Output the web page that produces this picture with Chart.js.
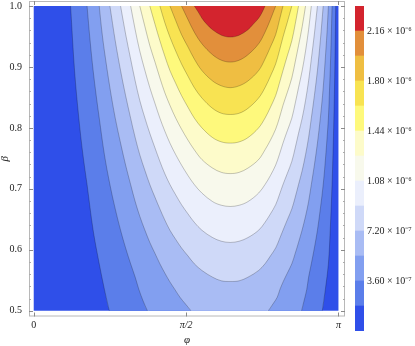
<!DOCTYPE html>
<html>
<head>
<meta charset="utf-8">
<script src="https://cdn.jsdelivr.net/npm/chart.js@4.4.0/dist/chart.umd.min.js"></script>
<style>
  body { margin: 0; background: #fff; }
  #wrap { position: relative; width: 415px; height: 346px; }
  #plot { position: absolute; left: 0; top: 0; }
  #bar { position: absolute; left: 345px; top: 0; }
</style>
</head>
<body>
<div id="wrap">
  <canvas id="plot" width="346" height="346"></canvas>
  <canvas id="bar" width="70" height="346"></canvas>
</div>
<script>
// phi is in units of pi, beta as on the axis
const dataBox = [[0, 0.5], [1, 0.5], [1, 1], [0, 1]]

// contour lines, from top-left round to top-right
const level1 = [[0.121,1],[0.134,0.894],[0.148,0.816],[0.1615,0.756],[0.175,0.707],[0.195,0.632],[0.215,0.577],[0.232,0.535],[0.248,0.5],[0.256,0.5],[0.939,0.5],[0.947,0.5],[0.957,0.535],[0.967,0.577],[0.973,0.632],[0.979,0.707],[0.982,0.756],[0.985,0.816],[0.988,0.894],[0.991,1]]
const level2 = [[0.175,1],[0.185,0.943],[0.195,0.894],[0.205,0.853],[0.215,0.816],[0.232,0.756],[0.250,0.707],[0.2675,0.667],[0.285,0.632],[0.3015,0.603],[0.318,0.577],[0.333,0.555],[0.345,0.535],[0.359,0.516],[0.373,0.5],[0.381,0.5],[0.871,0.5],[0.879,0.5],[0.887,0.516],[0.896,0.535],[0.902,0.555],[0.911,0.577],[0.921,0.603],[0.931,0.632],[0.9405,0.667],[0.950,0.707],[0.9585,0.756],[0.967,0.816],[0.970,0.853],[0.973,0.894],[0.976,0.943],[0.979,1]]
const level3 = [[0.215,1],[0.223,0.961],[0.232,0.926],[0.250,0.866],[0.2675,0.816],[0.285,0.775],[0.3015,0.739],[0.318,0.707],[0.333,0.679],[0.348,0.655],[0.365,0.632],[0.381,0.612],[0.398,0.594],[0.414,0.577],[0.430,0.562],[0.446,0.548],[0.463,0.535],[0.480,0.522],[0.498,0.511],[0.516,0.5],[0.524,0.5],[0.762,0.5],[0.770,0.5],[0.785,0.511],[0.799,0.522],[0.808,0.535],[0.819,0.548],[0.8325,0.562],[0.847,0.577],[0.858,0.594],[0.869,0.612],[0.8805,0.632],[0.892,0.655],[0.902,0.679],[0.911,0.707],[0.921,0.739],[0.931,0.775],[0.9405,0.816],[0.950,0.866],[0.9585,0.926],[0.963,0.961],[0.967,1]]
const level4 = [[0.250,1],[0.2675,0.943],[0.285,0.894],[0.3015,0.853],[0.318,0.816],[0.333,0.784],[0.348,0.756],[0.365,0.730],[0.381,0.707],[0.398,0.686],[0.414,0.667],[0.430,0.649],[0.447,0.632],[0.466,0.617],[0.485,0.603],[0.506,0.590],[0.527,0.577],[0.552,0.566],[0.587,0.555],[0.616,0.549],[0.645,0.548],[0.674,0.549],[0.703,0.555],[0.738,0.566],[0.759,0.577],[0.777,0.590],[0.794,0.603],[0.806,0.617],[0.818,0.632],[0.832,0.649],[0.847,0.667],[0.858,0.686],[0.869,0.707],[0.881,0.730],[0.892,0.756],[0.902,0.784],[0.911,0.816],[0.921,0.853],[0.931,0.894],[0.9405,0.943],[0.950,1]]
const level5 = [[0.285,1],[0.3015,0.954],[0.318,0.913],[0.333,0.877],[0.348,0.845],[0.365,0.816],[0.381,0.791],[0.398,0.767],[0.414,0.745],[0.430,0.725],[0.447,0.707],[0.466,0.690],[0.485,0.674],[0.506,0.659],[0.527,0.645],[0.552,0.632],[0.587,0.620],[0.616,0.614],[0.645,0.612],[0.674,0.614],[0.703,0.620],[0.738,0.632],[0.759,0.645],[0.777,0.659],[0.794,0.674],[0.806,0.690],[0.818,0.707],[0.832,0.725],[0.847,0.745],[0.858,0.767],[0.869,0.791],[0.881,0.816],[0.892,0.845],[0.902,0.877],[0.911,0.913],[0.921,0.954],[0.931,1]]
const level6 = [[0.318,1],[0.333,0.961],[0.348,0.926],[0.365,0.894],[0.381,0.866],[0.398,0.840],[0.414,0.816],[0.430,0.795],[0.447,0.775],[0.466,0.756],[0.485,0.739],[0.506,0.722],[0.527,0.707],[0.552,0.693],[0.587,0.679],[0.616,0.673],[0.645,0.671],[0.674,0.673],[0.703,0.679],[0.738,0.693],[0.759,0.707],[0.777,0.722],[0.794,0.739],[0.806,0.756],[0.818,0.775],[0.832,0.795],[0.847,0.816],[0.858,0.840],[0.869,0.866],[0.881,0.894],[0.892,0.926],[0.902,0.961],[0.911,1]]
const level7 = [[0.348,1],[0.365,0.966],[0.381,0.935],[0.398,0.908],[0.414,0.882],[0.430,0.858],[0.447,0.837],[0.466,0.816],[0.485,0.798],[0.506,0.780],[0.527,0.764],[0.552,0.748],[0.587,0.734],[0.616,0.727],[0.645,0.725],[0.674,0.727],[0.703,0.734],[0.738,0.748],[0.759,0.764],[0.777,0.780],[0.794,0.798],[0.806,0.816],[0.818,0.837],[0.832,0.858],[0.847,0.882],[0.858,0.908],[0.869,0.935],[0.881,0.966],[0.892,1]]
const level8 = [[0.381,1],[0.398,0.970],[0.414,0.943],[0.430,0.918],[0.447,0.894],[0.466,0.873],[0.485,0.853],[0.506,0.834],[0.527,0.816],[0.552,0.800],[0.587,0.784],[0.616,0.777],[0.645,0.775],[0.674,0.777],[0.703,0.784],[0.738,0.800],[0.759,0.816],[0.777,0.834],[0.794,0.853],[0.806,0.873],[0.818,0.894],[0.832,0.918],[0.847,0.943],[0.858,0.970],[0.869,1]]
const level9 = [[0.414,1],[0.430,0.973],[0.447,0.949],[0.466,0.926],[0.485,0.905],[0.506,0.885],[0.527,0.866],[0.552,0.849],[0.587,0.832],[0.616,0.824],[0.645,0.822],[0.674,0.824],[0.703,0.832],[0.738,0.849],[0.759,0.866],[0.777,0.885],[0.794,0.905],[0.806,0.926],[0.818,0.949],[0.832,0.973],[0.847,1]]
const level10 = [[0.447,1],[0.466,0.976],[0.485,0.953],[0.506,0.933],[0.527,0.913],[0.552,0.894],[0.587,0.877],[0.616,0.869],[0.645,0.866],[0.674,0.869],[0.703,0.877],[0.738,0.894],[0.759,0.913],[0.777,0.933],[0.794,0.953],[0.806,0.976],[0.818,1]]
const level11 = [[0.485,1],[0.506,0.978],[0.527,0.957],[0.552,0.938],[0.587,0.920],[0.616,0.911],[0.645,0.908],[0.674,0.911],[0.703,0.920],[0.738,0.938],[0.759,0.957],[0.777,0.978],[0.794,1]]
const level12 = [[0.527,1],[0.540,0.990],[0.552,0.980],[0.568,0.970],[0.587,0.961],[0.616,0.952],[0.645,0.949],[0.674,0.952],[0.703,0.961],[0.720,0.970],[0.738,0.980],[0.750,0.990],[0.759,1]]

const contours = [level1, level2, level3, level4, level5, level6, level7, level8, level9, level10, level11, level12]

// contour values (bar legend) and the colour of each band between them
const levels = [0, 1.8e-7, 3.6e-7, 5.4e-7, 7.2e-7, 9.0e-7, 1.08e-6, 1.26e-6, 1.44e-6, 1.62e-6, 1.80e-6, 1.98e-6, 2.16e-6, 2.34e-6]
const bandColors = ['#2f4fe9', '#5b7eea', '#829ff0', '#a9bcf4', '#cfd9f8', '#ebeffc', '#f8f9ec', '#fdfbca', '#fef97c', '#f8e352', '#efbe42', '#e28f3b', '#d3242e']

const xTickValues = [0, 0.5, 1]
const xTickLabels = ['0', 'π/2', 'π']
const yTickValues = [0.5, 0.6, 0.7, 0.8, 0.9, 1.0]
const yMinorTicks = [0.52, 0.54, 0.56, 0.58, 0.62, 0.64, 0.66, 0.68, 0.72, 0.74, 0.76, 0.78, 0.82, 0.84, 0.86, 0.88, 0.92, 0.94, 0.96, 0.98]

const serif = 'Liberation Serif'

function toXY(pts) {
    return pts.map(p => ({x: p[0], y: p[1]}))
}

// break the outline where it runs along the bottom edge
function outline(pts) {
    let out = []
    pts.forEach((p, i) => {
        if (i > 0 && p[1] <= 0.5 && pts[i - 1][1] <= 0.5) out.push({x: null, y: null})
        out.push({x: p[0], y: p[1]})
    })
    return out
}

let datasets = [{
    data: toXY(dataBox),
    fill: 'shape',
    backgroundColor: bandColors[0],
    borderColor: 'transparent',
    borderWidth: 0,
    pointRadius: 0,
    tension: 0,
    order: 100
}]
contours.forEach((pts, i) => {
    datasets.push({
        data: toXY(pts),
        fill: 'shape',
        backgroundColor: bandColors[i + 1],
        borderColor: 'transparent',
        borderWidth: 0,
        pointRadius: 0,
        tension: 0.35,
        order: 99 - i
    })
})
contours.forEach(pts => {
    datasets.push({
        data: outline(pts),
        fill: false,
        borderColor: 'rgba(0,0,0,0.3)',
        borderWidth: 0.75,
        pointRadius: 0,
        tension: 0.35,
        order: 0
    })
})

// frame with inward ticks, like the original
const frameTicks = {
    id: 'frameTicks',
    afterDraw(chart) {
        const {ctx, chartArea: a, scales: {x, y}} = chart
        const seg = (x1, y1, x2, y2) => { ctx.beginPath(); ctx.moveTo(x1, y1); ctx.lineTo(x2, y2); ctx.stroke() }
        ctx.save()
        ctx.lineWidth = 1
        ctx.strokeStyle = '#b8b8b8'
        ctx.strokeRect(a.left + 0.5, a.top + 0.5, a.right - a.left - 1, a.bottom - a.top - 1)
        ctx.strokeStyle = '#8a8a8a'
        xTickValues.forEach(v => {
            const px = Math.round(x.getPixelForValue(v)) + 0.5
            seg(px, a.bottom, px, a.bottom - 4)
            seg(px, a.top, px, a.top + 4)
        })
        yTickValues.forEach(v => {
            const py = Math.round(y.getPixelForValue(v)) + 0.5
            seg(a.left, py, a.left + 4, py)
            seg(a.right, py, a.right - 4, py)
        })
        ctx.strokeStyle = '#aaaaaa'
        yMinorTicks.forEach(v => {
            const py = Math.round(y.getPixelForValue(v)) + 0.5
            seg(a.left, py, a.left + 2, py)
            seg(a.right, py, a.right - 2, py)
        })
        ctx.restore()
    }
}

// keep the axes from reserving room for half-labels
function fixX(h) {
    return s => { s.height = h; s.paddingLeft = 0; s.paddingRight = 0 }
}
function fixY(w) {
    return s => { s.width = w; s.paddingTop = 0; s.paddingBottom = 0 }
}

const plot = new Chart(document.getElementById('plot'), {
    type: 'line',
    data: { datasets: datasets },
    options: {
        responsive: false,
        animation: false,
        devicePixelRatio: 1,
        events: [],
        layout: { padding: { left: 0, right: 1, top: 1, bottom: 0 } },
        plugins: { legend: { display: false }, tooltip: { enabled: false }, colors: { enabled: false } },
        scales: {
            x: {
                type: 'linear',
                min: -0.0155,
                max: 1.0215,
                afterFit: fixX(29.5),
                afterBuildTicks: s => { s.ticks = xTickValues.map(v => ({value: v})) },
                grid: { display: false, drawTicks: false },
                border: { display: false },
                ticks: {
                    padding: 3,
                    autoSkip: false,
                    maxRotation: 0,
                    color: '#222',
                    font: ctx => ({ family: serif, size: 10, style: ctx.index > 0 ? 'italic' : 'normal' }),
                    callback: (v, i) => xTickLabels[i]
                },
                title: { display: true, text: 'φ', color: '#222', padding: 0, font: { family: serif, size: 11, style: 'italic', lineHeight: 1 } }
            },
            y: {
                type: 'linear',
                min: 0.4905,
                max: 1.0082,
                afterFit: fixY(29),
                afterBuildTicks: s => { s.ticks = yTickValues.map(v => ({value: v})) },
                grid: { display: false, drawTicks: false },
                border: { display: false },
                ticks: {
                    padding: 7,
                    autoSkip: false,
                    color: '#222',
                    font: { family: serif, size: 10 },
                    callback: v => v.toFixed(1)
                },
                title: { display: true, text: 'β', color: '#222', padding: 0, font: { family: serif, size: 11, style: 'italic', lineHeight: 1 } }
            }
        }
    },
    plugins: [frameTicks]
})

const sup = {'-': '⁻', '0': '⁰', '1': '¹', '2': '²', '3': '³', '4': '⁴', '5': '⁵', '6': '⁶', '7': '⁷', '8': '⁸', '9': '⁹'}
function sciLabel(v) {
    const e = Math.floor(Math.log10(v) + 1e-9)
    const m = v / Math.pow(10, e)
    return m.toFixed(2) + ' × 10' + String(e).split('').map(c => sup[c]).join('')
}

const legendBar = new Chart(document.getElementById('bar'), {
    type: 'bar',
    data: {
        labels: [''],
        datasets: bandColors.map((c, i) => ({
            data: [[levels[i], levels[i + 1]]],
            backgroundColor: c,
            borderWidth: 0,
            barPercentage: 1,
            categoryPercentage: 1,
            grouped: false
        }))
    },
    options: {
        responsive: false,
        animation: false,
        devicePixelRatio: 1,
        events: [],
        layout: { padding: { left: 10, right: 0, top: 6, bottom: 15 } },
        plugins: { legend: { display: false }, tooltip: { enabled: false }, colors: { enabled: false } },
        scales: {
            x: { display: false },
            y: {
                position: 'right',
                min: 0,
                max: 2.34e-6,
                afterFit: fixY(51),
                afterBuildTicks: s => { s.ticks = levels.map(v => ({value: v})) },
                grid: { display: false, drawTicks: false },
                border: { display: false },
                ticks: {
                    padding: 3,
                    autoSkip: false,
                    color: '#222',
                    font: { family: serif, size: 10 },
                    callback: (v, i) => (i % 2 === 0 && i > 0 && i < levels.length - 1) ? sciLabel(v) : ''
                }
            }
        }
    }
})
</script>
</body>
</html>
